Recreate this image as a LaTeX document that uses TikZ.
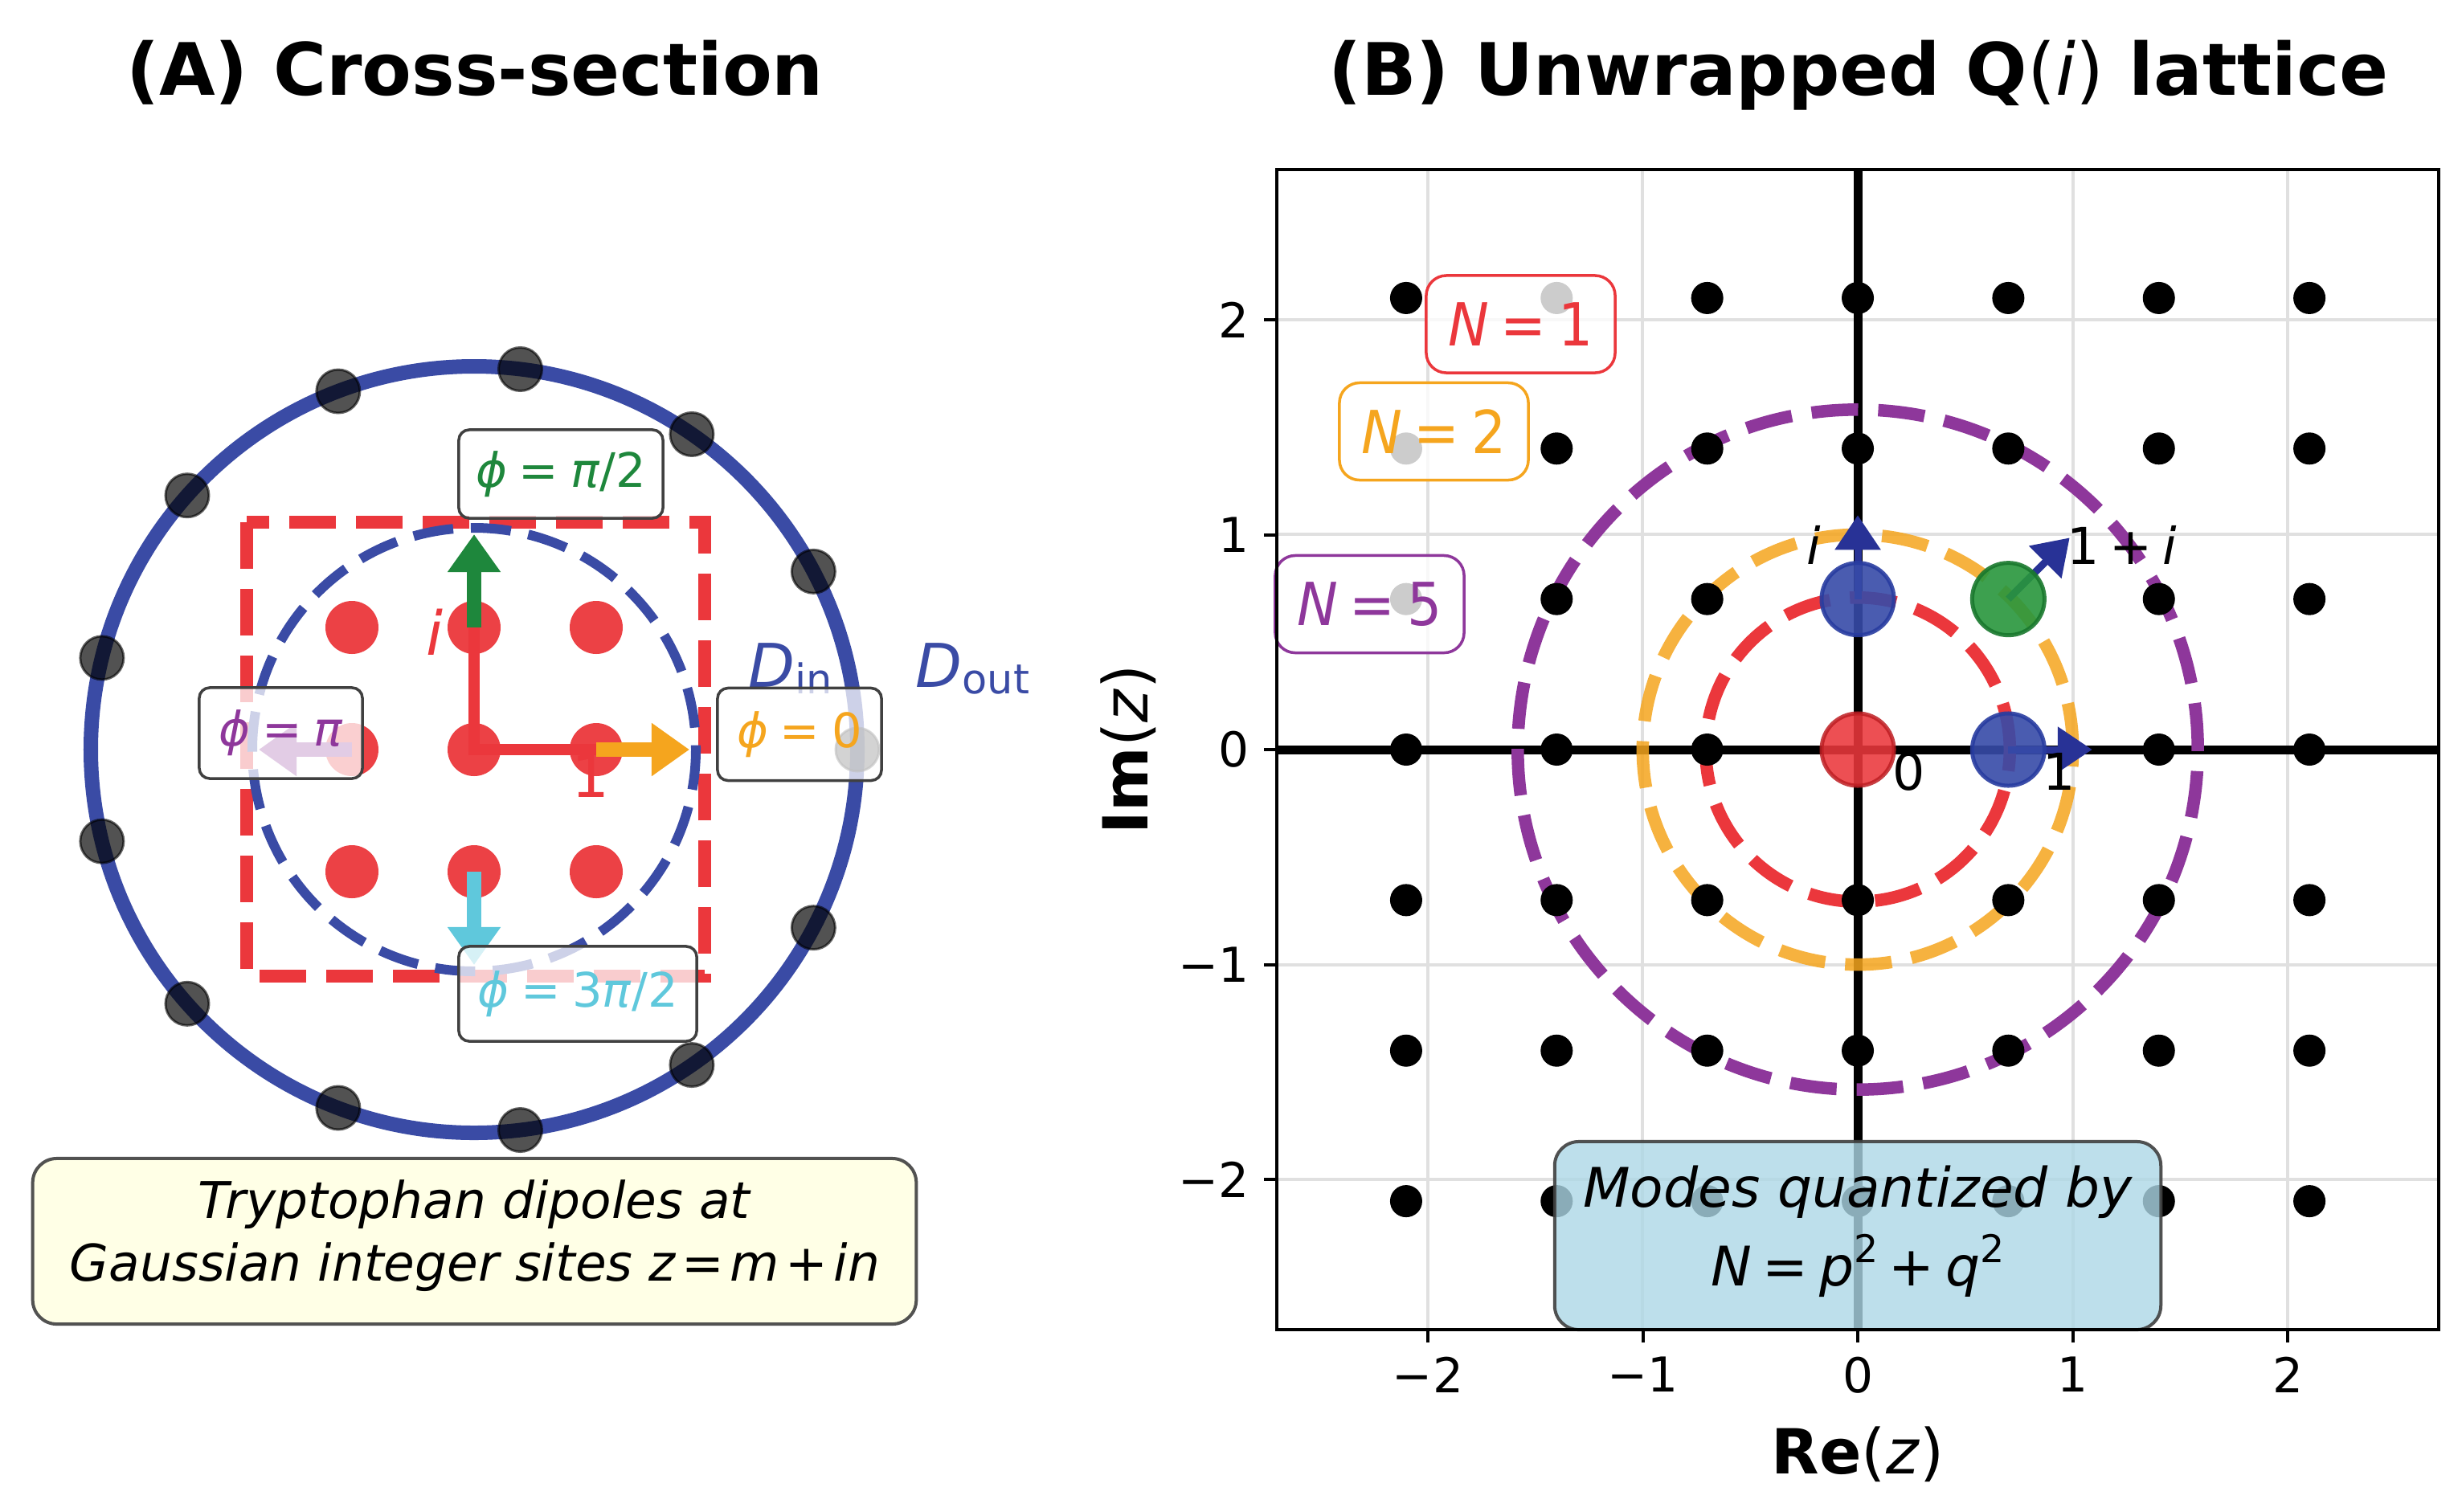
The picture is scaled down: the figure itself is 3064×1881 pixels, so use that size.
\documentclass[tikz,border=0pt]{standalone}
\usepackage{fontspec}
\setmainfont{DejaVu Sans}[ItalicFont={DejaVu Sans Oblique},BoldFont={DejaVu Sans Bold},BoldItalicFont={DejaVu Sans Bold Oblique}]
\usetikzlibrary{arrows.meta}
\definecolor{cblue}{RGB}{58,75,165}
\definecolor{cred}{RGB}{235,55,60}
\definecolor{cgreen}{RGB}{30,135,60}
\definecolor{corange}{RGB}{245,165,30}
\definecolor{ccyan}{RGB}{95,200,220}
\definecolor{cpurple}{RGB}{142,55,155}
\definecolor{cnavy}{RGB}{40,50,150}
\definecolor{cgrid}{RGB}{224,224,224}
\definecolor{cedge}{RGB}{64,64,64}
\definecolor{cyellow}{RGB}{255,255,224}
\definecolor{clblue}{RGB}{173,216,230}
\definecolor{credge}{RGB}{190,30,35}
\definecolor{cbfill}{RGB}{55,75,168}
\definecolor{cbedge}{RGB}{40,60,160}
\definecolor{cgfill}{RGB}{40,150,60}
\definecolor{cgedge}{RGB}{25,120,45}
\newcommand\fsz[1]{\fontsize{#1pt}{#1pt}\selectfont}
\tikzset{
  phbox/.style={draw=cedge, line width=0.035cm, rounded corners=0.13cm, fill=white, fill opacity=0.75, text opacity=1, inner sep=0pt},
  nbox/.style={line width=0.035cm, rounded corners=0.25cm, fill=white, fill opacity=0.8, text opacity=1, inner sep=0pt, minimum width=2.35cm, minimum height=1.21cm},
  capbox/.style={draw=cedge, draw opacity=0.9, line width=0.04cm, rounded corners=0.3cm, fill opacity=0.8, inner sep=0pt},
  ldash/.style={line width=0.155cm, dash pattern=on 0.58cm off 0.25cm},
  aarrow/.style={line width=0.18cm, -{Triangle[length=0.47cm,width=0.63cm]}},
  barrow/.style={cnavy, line width=0.09cm, -{Triangle[length=0.43cm,width=0.55cm]}},
  gdot/.style={fill=black, fill opacity=0.68, draw=black, draw opacity=0.6, line width=0.03cm},
  txt/.style={inner sep=0pt}
}
\begin{document}
\begin{tikzpicture}[x=0.01cm,y=-0.01cm]
\useasboundingbox (0,0) rectangle (3064,1881);
\fill[white] (0,0) rectangle (3064,1881);

% ---------------- Panel A ----------------
\node[txt, anchor=base] (titleA) at (591,118) {\fsz{25.6}\bfseries (A) Cross-section};
\coordinate (A0) at (590,933);
\draw[cblue, line width=0.18cm] (A0) circle[radius=477];
\foreach \k in {0,...,12}{
  \filldraw[gdot] (A0) ++(\k*360/13:477) circle[radius=27];
}
\draw[cred, ldash] (307,650) rectangle (877,1215);
\draw[cblue, line width=0.12cm, dash pattern=on 0.5cm off 0.22cm] (A0) circle[radius=276];
\node[txt, anchor=base, text=cred] (lblOne) at (735,992) {\fsz{21}1};
\foreach \i in {-1,0,1}{
  \foreach \j in {-1,0,1}{
    \fill[cred, fill opacity=0.95] ({590+152*\i},{933+152*\j}) circle[radius=33];
  }
}
\coordinate (Aup) at (590,781);
\coordinate (Art) at (742,933);
\coordinate (Alf) at (438,933);
\coordinate (Adn) at (590,1085);
\coordinate (tUp) at (590,665);
\coordinate (tRt) at (858,933);
\coordinate (tLf) at (322,933);
\coordinate (tDn) at (590,1201);
\draw[cred, line width=0.14cm] (Aup) -- (A0) -- (Art);
\draw[cgreen, aarrow] (Aup) -- (tUp);
\draw[corange, aarrow] (Art) -- (tRt);
\draw[cpurple, aarrow] (Alf) -- (tLf);
\draw[ccyan, aarrow] (Adn) -- (tDn);
\node[txt, text=cred] (lblI) at (541,787) {\fsz{21.5}\textit{i}};
\node[txt, anchor=base west, text=cblue] (Din) at (931,855) {\fsz{21.4}\textit{D}\raisebox{-0.11em}{\fsz{14.5}in}};
\node[txt, anchor=base west, text=cblue] (Dout) at (1139,855) {\fsz{21.4}\textit{D}\raisebox{-0.11em}{\fsz{14.5}out}};

\node[phbox, minimum width=2.54cm, minimum height=1.10cm, text=cgreen] (phUp) at (698,590) {\fsz{16.8}\textit{ϕ}\hspace{0.25em}=\hspace{0.25em}\textit{π}/2};
\node[phbox, minimum width=2.04cm, minimum height=1.15cm, text=corange] (phRt) at (995,914) {\fsz{16.8}\textit{ϕ}\hspace{0.25em}=\hspace{0.25em}0};
\node[phbox, minimum width=2.03cm, minimum height=1.13cm, text=cpurple] (phLf) at (349.5,912.5) {\fsz{16.8}\textit{ϕ}\hspace{0.25em}=\hspace{0.25em}\textit{π}};
\node[phbox, minimum width=2.96cm, minimum height=1.18cm, text=ccyan] (phDn) at (719,1237) {\fsz{16.8}\textit{ϕ}\hspace{0.25em}=\hspace{0.25em}3\textit{π}/2};

\node[capbox, fill=cyellow, minimum width=10.99cm, minimum height=2.06cm] (capA) at (590.5,1545) {};
\node[txt, anchor=base] (capA1) at (590,1516) {\fsz{17.9}\itshape Tryptophan dipoles at};
\node[txt, anchor=base] (capA2) at (591,1594) {\fsz{17.9}\itshape Gaussian integer sites z\hspace{0.12em}{\upshape =}\hspace{0.12em}m\hspace{0.12em}{\upshape +}\hspace{0.12em}in};

% ---------------- Panel B ----------------
\node[txt, anchor=base] (titleB) at (2313,118) {\fsz{25.6}\textbf{(B) Unwrapped Q}(\textit{i})\textbf{ lattice}};
\begin{scope}[shift={(2312,933)}, x=2.675cm, y=2.675cm]
  \foreach \v in {-2,...,2}{
    \draw[cgrid, line width=0.04cm] (\v,-2.7) -- (\v,2.7);
    \draw[cgrid, line width=0.04cm] (-2.7,\v) -- (2.7,\v);
  }
  \coordinate (B0) at (0,0);
  \draw[black, line width=0.11cm] (-2.7,0) -- (2.7,0);
  \draw[black, line width=0.11cm] (0,-2.7) -- (0,2.7);
  \draw[cred, ldash] (B0) circle[radius=0.7071];
  \draw[corange, draw opacity=0.85, ldash] (B0) circle[radius=1];
  \draw[cpurple, ldash] (B0) circle[radius=1.5811];
  \foreach \i in {-3,...,3}{
    \foreach \j in {-3,...,3}{
      \pgfmathtruncatemacro\skipit{(\i>=0)&&(\i<=1)&&(\j>=0)&&(\j<=1)}
      \ifnum\skipit=0 \fill[black] ({0.7*\i},{0.7*\j}) circle[radius=0.2cm]; \fi
    }
  }
  \coordinate (Bre) at (0.7,0);
  \coordinate (Bim) at (0,0.7);
  \coordinate (Bdi) at (0.7,0.7);
  \coordinate (tRe) at (1.09,0);
  \coordinate (tIm) at (0,1.09);
  \coordinate (tDi) at (0.985,0.985);
  \draw[barrow] (Bre) -- (tRe);
  \draw[barrow] (Bim) -- (tIm);
  \draw[barrow] (Bdi) -- (tDi);
  \filldraw[fill=cred, fill opacity=0.88, draw=credge, draw opacity=0.85, line width=0.05cm] (B0) circle[radius=0.45cm];
  \filldraw[fill=cbfill, fill opacity=0.9, draw=cbedge, draw opacity=0.9, line width=0.05cm] (Bre) circle[radius=0.45cm];
  \filldraw[fill=cbfill, fill opacity=0.9, draw=cbedge, draw opacity=0.9, line width=0.05cm] (Bim) circle[radius=0.45cm];
  \filldraw[fill=cgfill, fill opacity=0.9, draw=cgedge, draw opacity=0.9, line width=0.05cm] (Bdi) circle[radius=0.45cm];
\end{scope}
\node[txt, anchor=base] (lb0) at (2376,983) {\fsz{18}0};
\node[txt, anchor=base] (lb1) at (2563,983) {\fsz{18}1};
\node[txt, anchor=base] (lbi) at (2257,702) {\fsz{18}\textit{i}};
\node[txt, anchor=base west] (lb1i) at (2572,702) {\fsz{18}1\hspace{0.2em}+\hspace{0.2em}\textit{i}};

\node[nbox, draw=cred, text=cred] (n1) at (1892.5,403.5) {\scalebox{0.92}[1]{\fsz{21}\textit{N}\hspace{0.22em}=\hspace{0.22em}1}};
\node[nbox, draw=corange, text=corange] (n2) at (1784.5,537) {\scalebox{0.92}[1]{\fsz{21}\textit{N}\hspace{0.22em}=\hspace{0.22em}2}};
\node[nbox, draw=cpurple, text=cpurple] (n5) at (1704.5,752) {\scalebox{0.92}[1]{\fsz{21}\textit{N}\hspace{0.22em}=\hspace{0.22em}5}};

\node[capbox, fill=clblue, minimum width=7.54cm, minimum height=2.34cm] (capB) at (2312,1538) {};
\node[txt, anchor=base] (capB1) at (2312,1502) {\fsz{19.3}\itshape Modes quantized by};
\node[txt, anchor=base] (capB2) at (2312,1600) {\fsz{19.3}\itshape N\hspace{0.2em}{\upshape =}\hspace{0.2em}p\raisebox{0.42em}{\fsz{13.5}\upshape 2}\hspace{0.2em}{\upshape +}\hspace{0.2em}q\raisebox{0.42em}{\fsz{13.5}\upshape 2}};

% frame, ticks, tick labels
\draw[black, line width=0.045cm] (1589,211) rectangle (3035,1655);
\foreach \v/\lab in {-2/−2,-1/−1,0/0,1/1,2/2}{
  \draw[black, line width=0.04cm] ({2312+267.5*\v},1655) -- ({2312+267.5*\v},1671);
  \node[txt, anchor=north] at ({2312+267.5*\v},1688) {\fsz{17}\lab};
  \draw[black, line width=0.04cm] (1573,{933-267.5*\v}) -- (1589,{933-267.5*\v});
  \node[txt, anchor=east] at (1555,{933-267.5*\v}) {\fsz{17}\lab};
}
\node[txt, anchor=base] (xlab) at (2312,1834) {\fsz{22}\textbf{Re}(\textit{z})};
\node[txt, anchor=base, rotate=90] (ylab) at (1428,933) {\fsz{22}\textbf{Im}(\textit{z})};
\end{tikzpicture}
\end{document}
